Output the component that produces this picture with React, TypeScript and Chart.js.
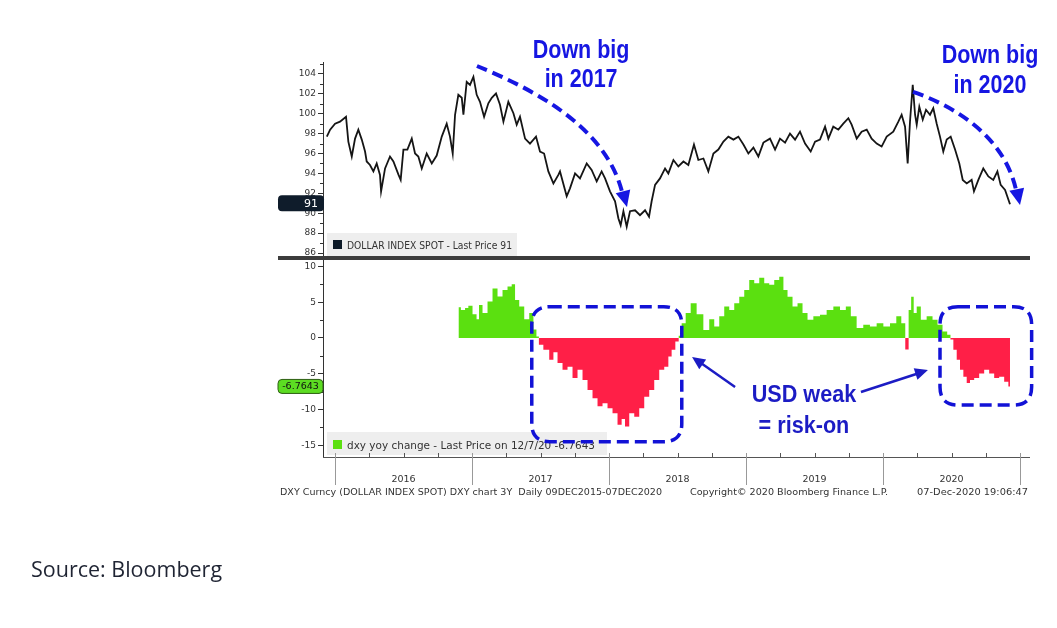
import React, { useEffect, useRef } from 'react';
import { Chart, registerables } from 'chart.js';

Chart.register(...registerables);

// ---------- DATA ----------
const dxyDates = [
  2015.94, 2015.964, 2016.0, 2016.036, 2016.08, 2016.097, 2016.122, 2016.146, 2016.17, 2016.195,
  2016.219, 2016.231, 2016.255, 2016.28, 2016.304, 2016.328, 2016.336, 2016.365, 2016.401, 2016.426,
  2016.462, 2016.479, 2016.499, 2016.528, 2016.56, 2016.584, 2016.608, 2016.633, 2016.669, 2016.706,
  2016.742, 2016.779, 2016.815, 2016.839, 2016.859, 2016.876, 2016.9, 2016.925, 2016.937, 2016.961,
  2016.985, 2017.01, 2017.034, 2017.058, 2017.088, 2017.119, 2017.144, 2017.175, 2017.204, 2017.229,
  2017.265, 2017.302, 2017.326, 2017.35, 2017.387, 2017.423, 2017.467, 2017.496, 2017.526, 2017.557,
  2017.594, 2017.63, 2017.642, 2017.691, 2017.715, 2017.752, 2017.788, 2017.837, 2017.873, 2017.91,
  2017.946, 2017.971, 2018.007, 2018.044, 2018.068, 2018.085, 2018.105, 2018.129, 2018.153, 2018.19,
  2018.226, 2018.263, 2018.292, 2018.311, 2018.336, 2018.372, 2018.409, 2018.433, 2018.47, 2018.506,
  2018.543, 2018.579, 2018.62, 2018.652, 2018.689, 2018.725, 2018.762, 2018.798, 2018.835, 2018.871,
  2018.908, 2018.944, 2018.981, 2019.017, 2019.054, 2019.09, 2019.127, 2019.175, 2019.212, 2019.248,
  2019.285, 2019.321, 2019.358, 2019.394, 2019.431, 2019.472, 2019.504, 2019.54, 2019.577, 2019.601,
  2019.637, 2019.674, 2019.71, 2019.747, 2019.771, 2019.808, 2019.844, 2019.881, 2019.917, 2019.954,
  2019.99, 2020.027, 2020.075, 2020.112, 2020.136, 2020.161, 2020.18, 2020.197, 2020.217, 2020.234,
  2020.246, 2020.265, 2020.29, 2020.314, 2020.343, 2020.367, 2020.392, 2020.416, 2020.44, 2020.465,
  2020.494, 2020.526, 2020.557, 2020.582, 2020.611, 2020.647, 2020.664, 2020.696, 2020.732, 2020.769,
  2020.805, 2020.835, 2020.859, 2020.891, 2020.927,
];
const dxyValues = [
  97.7, 98.4, 99.0, 99.2, 99.7, 97.2, 95.7, 97.5, 98.4, 97.4,
  96.2, 95.2, 94.85, 94.2, 95.0, 93.85, 92.2, 94.5, 95.7, 95.2,
  93.9, 93.35, 96.4, 96.4, 97.5, 96.0, 95.7, 94.5, 96.0, 95.0,
  95.8, 97.7, 99.0, 97.7, 96.0, 99.9, 101.9, 101.6, 99.9, 103.2,
  102.9, 103.7, 101.9, 101.2, 99.7, 101.05, 101.6, 102.05, 100.9, 99.2,
  101.2, 100.05, 98.9, 99.7, 97.5, 97.0, 97.7, 96.2, 96.0, 94.2,
  93.0, 93.85, 94.2, 91.7, 92.5, 94.0, 93.5, 95.0, 94.35, 93.2,
  94.2, 93.5, 92.2, 91.2, 89.5, 88.8, 90.2, 88.65, 90.2, 90.3,
  89.8, 90.3, 89.65, 91.2, 92.85, 93.5, 94.5, 94.0, 95.35, 94.7,
  95.2, 94.85, 96.9, 95.35, 95.5, 94.2, 96.0, 96.4, 97.2, 97.7,
  97.4, 97.7, 96.9, 96.0, 96.6, 95.7, 97.1, 97.5, 96.4, 97.5,
  97.1, 98.0, 97.4, 98.2, 97.0, 96.2, 97.2, 97.4, 98.7, 97.5,
  98.7, 98.4, 99.0, 99.55, 98.9, 97.5, 98.2, 98.4, 97.5, 97.0,
  96.7, 97.7, 98.2, 99.2, 99.9, 98.7, 95.0, 99.2, 102.9, 99.9,
  98.9, 100.7, 99.4, 100.4, 99.9, 100.55, 99.0, 97.7, 96.2, 97.4,
  97.7, 96.4, 95.0, 93.35, 93.0, 93.35, 92.2, 93.35, 94.5, 93.7,
  93.35, 94.2, 92.85, 92.35, 90.9,
];

const yoyDates = [
  2016.9, 2016.937, 2016.961, 2016.985, 2017.022, 2017.044, 2017.058, 2017.095, 2017.131, 2017.168,
  2017.204, 2017.241, 2017.277, 2017.302, 2017.326, 2017.363, 2017.399, 2017.436, 2017.46, 2017.48,
  2017.496, 2017.545, 2017.582, 2017.606, 2017.642, 2017.679, 2017.715, 2017.752, 2017.788, 2017.825,
  2017.861, 2017.898, 2017.934, 2017.971, 2018.007, 2018.044, 2018.08, 2018.104, 2018.129, 2018.166,
  2018.202, 2018.239, 2018.275, 2018.312, 2018.348, 2018.385, 2018.421, 2018.445, 2018.469, 2018.499,
  2018.518, 2018.542, 2018.577, 2018.615, 2018.664, 2018.713, 2018.75, 2018.786, 2018.823, 2018.859,
  2018.896, 2018.932, 2018.969, 2019.005, 2019.042, 2019.078, 2019.115, 2019.151, 2019.188, 2019.224,
  2019.261, 2019.285, 2019.321, 2019.358, 2019.394, 2019.431, 2019.467, 2019.516, 2019.564, 2019.613,
  2019.662, 2019.71, 2019.747, 2019.783, 2019.832, 2019.88, 2019.929, 2019.978, 2020.027, 2020.075,
  2020.119, 2020.148, 2020.177, 2020.197, 2020.214, 2020.234, 2020.258, 2020.294, 2020.343, 2020.38,
  2020.416, 2020.453, 2020.484, 2020.501, 2020.526, 2020.55, 2020.574, 2020.599, 2020.623, 2020.647,
  2020.684, 2020.72, 2020.757, 2020.793, 2020.83, 2020.866, 2020.903, 2020.927,
];
const yoyValues = [
  4.3, 3.9, 4.2, 4.5, 3.3, 2.6, 4.6, 3.5, 5.1, 6.9,
  5.8, 6.7, 7.2, 7.5, 5.3, 4.4, 2.6, 3.5, 1.2, 0.2,
  -0.95, -1.65, -3.05, -2.0, -3.5, -4.45, -4.0, -5.6, -4.45, -5.85,
  -7.25, -8.4, -9.55, -9.1, -9.8, -10.5, -12.1, -11.3, -12.35, -10.5,
  -11.0, -9.8, -8.2, -7.25, -5.85, -4.45, -4.0, -2.6, -1.65, -0.5,
  0.3, 2.05, 3.5, 4.85, 3.3, 1.1, 2.6, 1.6, 3.05, 4.4,
  3.9, 4.85, 5.75, 6.7, 8.1, 7.65, 8.4, 7.65, 7.45, 8.1,
  8.55, 6.7, 5.75, 4.4, 4.85, 3.5, 2.55, 3.05, 3.25, 3.9,
  4.4, 3.9, 4.4, 3.05, 1.4, 1.85, 1.6, 2.05, 1.6, 2.05,
  3.05, 2.05, -1.6, 3.9, 5.75, 3.5, 4.4, 2.55, 3.05, 2.55,
  1.85, 0.9, 0.45, -0.2, -1.65, -3.05, -4.45, -5.4, -6.3, -5.85,
  -5.6, -4.95, -4.45, -4.95, -5.6, -5.4, -6.1, -6.7643,
];

const topTicks = [86, 88, 90, 92, 94, 96, 98, 100, 102, 104];
const topMinorTicks = [87, 89, 91, 93, 95, 97, 99, 101, 103, 105];
const bottomTicks = [-15, -10, -5, 0, 5, 10];
const bottomMinorTicks = [-12.5, -7.5, -2.5, 2.5, 7.5];
const yearStarts = [2016, 2017, 2018, 2019, 2020, 2021];
const yearLabels = ['2016', '2017', '2018', '2019', '2020'];

const lastDxyLabel = '91';
const lastYoyLabel = '-6.7643';
const topLegend = 'DOLLAR INDEX SPOT - Last Price 91';
const bottomLegend = 'dxy yoy change - Last Price on 12/7/20 -6.7643';
const footerLeft = 'DXY Curncy (DOLLAR INDEX SPOT) DXY chart 3Y  Daily 09DEC2015-07DEC2020';
const footerMid = 'Copyright\u00A9 2020 Bloomberg Finance L.P.';
const footerRight = '07-Dec-2020 19:06:47';

// ---------- STYLE ----------
const GREEN = '#5be010';
const RED = '#ff1f47';
const BLUE = '#1616e2';
const NAVY = '#1c1cc4';
const SMALL = '"DejaVu Sans", Verdana, sans-serif';
const BIG = '"Liberation Sans", Arial, sans-serif';
const X_MIN = 2015.912;
const X_MAX = 2021.073;

function arrowHead(ctx: CanvasRenderingContext2D, tx: number, ty: number, fx: number, fy: number, len: number, half: number, color: string) {
  const a = Math.atan2(ty - fy, tx - fx);
  const bx = tx - len * Math.cos(a);
  const by = ty - len * Math.sin(a);
  ctx.save();
  ctx.fillStyle = color;
  ctx.beginPath();
  ctx.moveTo(tx, ty);
  ctx.lineTo(bx + half * Math.sin(a), by - half * Math.cos(a));
  ctx.lineTo(bx - half * Math.sin(a), by + half * Math.cos(a));
  ctx.closePath();
  ctx.fill();
  ctx.restore();
}

function scaledText(ctx: CanvasRenderingContext2D, text: string, cx: number, base: number, sx: number, font: string, color: string) {
  ctx.save();
  ctx.translate(cx, base);
  ctx.scale(sx, 1);
  ctx.font = font;
  ctx.fillStyle = color;
  ctx.textAlign = 'center';
  ctx.textBaseline = 'alphabetic';
  ctx.fillText(text, 0, 0);
  ctx.restore();
}

// draws text squeezed/stretched horizontally to span a given width
function fitText(ctx: CanvasRenderingContext2D, text: string, left: number, base: number, width: number, font: string, color: string) {
  ctx.save();
  ctx.font = font;
  const w = ctx.measureText(text).width || 1;
  ctx.translate(left, base);
  ctx.scale(width / w, 1);
  ctx.fillStyle = color;
  ctx.textAlign = 'left';
  ctx.textBaseline = 'alphabetic';
  ctx.fillText(text, 0, 0);
  ctx.restore();
}

function roundRect(ctx: CanvasRenderingContext2D, x: number, y: number, w: number, h: number, r: number) {
  ctx.beginPath();
  ctx.moveTo(x + r, y);
  ctx.lineTo(x + w - r, y);
  ctx.quadraticCurveTo(x + w, y, x + w, y + r);
  ctx.lineTo(x + w, y + h - r);
  ctx.quadraticCurveTo(x + w, y + h, x + w - r, y + h);
  ctx.lineTo(x + r, y + h);
  ctx.quadraticCurveTo(x, y + h, x, y + h - r);
  ctx.lineTo(x, y + r);
  ctx.quadraticCurveTo(x, y, x + r, y);
  ctx.closePath();
}

const overlay = {
  id: 'overlay',
  afterDraw(chart: any) {
    const ctx: CanvasRenderingContext2D = chart.ctx;
    const xs = chart.scales.x;
    const yT = chart.scales.yTop;
    const yB = chart.scales.yBot;
    const area = chart.chartArea;
    const px = (v: number) => xs.getPixelForValue(v);
    const pt = (v: number) => yT.getPixelForValue(v);
    const pb = (v: number) => yB.getPixelForValue(v);
    const axisX = area.left;

    ctx.save();
    // minor y ticks
    ctx.strokeStyle = '#333';
    ctx.lineWidth = 1;
    ctx.beginPath();
    topMinorTicks.forEach((v) => {
      const y = Math.round(pt(v)) + 0.5;
      if (y > yT.top && y < yT.bottom) { ctx.moveTo(axisX - 3, y); ctx.lineTo(axisX, y); }
    });
    bottomMinorTicks.forEach((v) => {
      const y = Math.round(pb(v)) + 0.5;
      ctx.moveTo(axisX - 3, y); ctx.lineTo(axisX, y);
    });
    ctx.stroke();

    // legend boxes
    const topBase = yT.bottom;
    ctx.fillStyle = '#eeeeee';
    ctx.fillRect(axisX + 4, topBase - 25, 190, 23);
    ctx.fillRect(axisX + 4, area.bottom - 25, 280, 23);
    ctx.fillStyle = '#0d1a28';
    ctx.fillRect(axisX + 10, topBase - 18, 9, 9);
    ctx.fillStyle = GREEN;
    ctx.fillRect(axisX + 10, area.bottom - 17, 9, 9);
    fitText(ctx, topLegend, axisX + 24, topBase - 9, 165, `10px ${SMALL}`, '#333');
    fitText(ctx, bottomLegend, axisX + 24, area.bottom - 8, 248, `10px ${SMALL}`, '#333');

    // separator bar between panels
    ctx.fillStyle = '#3c3c3c';
    ctx.fillRect(278, yT.bottom - 2, area.right - 278, 4);

    // bottom time axis
    ctx.strokeStyle = '#555';
    ctx.beginPath();
    ctx.moveTo(axisX, area.bottom + 0.5);
    ctx.lineTo(area.right, area.bottom + 0.5);
    ctx.stroke();
    ctx.beginPath();
    for (let yr = 2016; yr <= 2020; yr++) {
      [0.25, 0.5, 0.75].forEach((q) => {
        const x = Math.round(px(yr + q)) + 0.5;
        ctx.moveTo(x, area.bottom); ctx.lineTo(x, area.bottom - 4);
      });
    }
    ctx.stroke();
    ctx.strokeStyle = '#999';
    ctx.beginPath();
    yearStarts.forEach((yr) => {
      const x = Math.round(px(yr)) + 0.5;
      ctx.moveTo(x, area.bottom - 4); ctx.lineTo(x, area.bottom + 28);
    });
    ctx.stroke();
    ctx.font = `9.5px ${SMALL}`;
    ctx.fillStyle = '#333';
    ctx.textAlign = 'center';
    ctx.textBaseline = 'alphabetic';
    yearLabels.forEach((lab, i) => {
      ctx.fillText(lab, px(yearStarts[i] + 0.5), area.bottom + 25);
    });
    fitText(ctx, footerLeft, 280, area.bottom + 38, 382, `9.5px ${SMALL}`, '#333');
    fitText(ctx, footerMid, 690, area.bottom + 38, 198, `9.5px ${SMALL}`, '#333');
    fitText(ctx, footerRight, 917, area.bottom + 38, 111, `9.5px ${SMALL}`, '#333');

    // last-price tags
    const ty = pt(91);
    ctx.fillStyle = '#0f1c2b';
    roundRect(ctx, 278, ty - 8, 46, 16, 4);
    ctx.fill();
    ctx.fillStyle = '#fff';
    ctx.font = `11px ${SMALL}`;
    ctx.textAlign = 'right';
    ctx.textBaseline = 'middle';
    ctx.fillText(lastDxyLabel, 318, ty + 1);

    const gy = pb(-6.7643);
    ctx.fillStyle = '#5cdc22';
    roundRect(ctx, 278, gy - 7, 45, 14, 4);
    ctx.fill();
    ctx.strokeStyle = '#2d5e12';
    ctx.lineWidth = 1;
    ctx.stroke();
    ctx.fillStyle = '#111';
    ctx.font = `9.5px ${SMALL}`;
    ctx.textAlign = 'center';
    ctx.fillText(lastYoyLabel, 300.5, gy + 0.5);
    ctx.textBaseline = 'alphabetic';

    // dashed curved arrows
    ctx.strokeStyle = BLUE;
    ctx.lineWidth = 4;
    ctx.setLineDash([11, 6]);
    ctx.beginPath();
    ctx.moveTo(px(2017.036), pt(104.8));
    ctx.bezierCurveTo(px(2017.423), pt(102.59), px(2017.971), pt(98.87), px(2018.095), pt(92.14));
    ctx.stroke();
    ctx.beginPath();
    ctx.moveTo(px(2020.219), pt(102.19));
    ctx.bezierCurveTo(px(2020.562), pt(100.58), px(2020.891), pt(97.37), px(2020.971), pt(92.34));
    ctx.stroke();
    ctx.setLineDash([]);
    arrowHead(ctx, px(2018.131), pt(90.63), px(2018.095), pt(92.14) - 4, 16, 7.5, BLUE);
    arrowHead(ctx, px(2021.0), pt(90.83), px(2020.971), pt(92.34) - 4, 16, 7.5, BLUE);

    // dashed rounded boxes
    ctx.lineWidth = 3.5;
    ctx.setLineDash([12, 6]);
    ctx.strokeStyle = '#1212d6';
    const b1x = px(2017.436), b1y = pb(4.37);
    roundRect(ctx, b1x, b1y, px(2018.531) - b1x, pb(-14.48) - b1y, 18);
    ctx.stroke();
    const b2x = px(2020.416), b2y = pb(4.37);
    roundRect(ctx, b2x, b2y, px(2021.085) - b2x, pb(-9.36) - b2y, 18);
    ctx.stroke();
    ctx.setLineDash([]);

    // solid arrows
    ctx.strokeStyle = NAVY;
    ctx.lineWidth = 2.5;
    const l0x = px(2018.92), l0y = pb(-6.84), l1x = px(2018.606), l1y = pb(-2.65);
    ctx.beginPath(); ctx.moveTo(l0x, l0y); ctx.lineTo(l1x + 6, l1y + 4); ctx.stroke();
    arrowHead(ctx, l1x, l1y, l0x, l0y, 13, 6, NAVY);
    const r0x = px(2019.839), r0y = pb(-7.54), r1x = px(2020.328), r1y = pb(-4.47);
    ctx.beginPath(); ctx.moveTo(r0x, r0y); ctx.lineTo(r1x - 7, r1y + 2.5); ctx.stroke();
    arrowHead(ctx, r1x, r1y, r0x, r0y, 13, 6, NAVY);

    // annotation texts
    const bigFont = `bold 25px ${BIG}`;
    scaledText(ctx, 'Down big', px(2017.796), pt(105.58), 0.86, bigFont, BLUE);
    scaledText(ctx, 'in 2017', px(2017.796), pt(102.66), 0.86, bigFont, BLUE);
    scaledText(ctx, 'Down big', px(2020.781), pt(105.08), 0.86, bigFont, BLUE);
    scaledText(ctx, 'in 2020', px(2020.781), pt(102.06), 0.86, bigFont, BLUE);
    const midFont = `bold 23.5px ${BIG}`;
    scaledText(ctx, 'USD weak', px(2019.423), pb(-8.9), 0.92, midFont, NAVY);
    scaledText(ctx, '= risk-on', px(2019.423), pb(-13.27), 0.92, midFont, NAVY);
    ctx.restore();
  },
};

export default function App() {
  const ref = useRef<HTMLCanvasElement>(null);
  useEffect(() => {
    const canvas = ref.current;
    if (!canvas) return;
    const yCommon = {
      type: 'linear' as const,
      position: 'left' as const,
      stack: 'panels',
      afterFit: (s: any) => { s.width = 45; },
      ticks: { font: { family: 'DejaVu Sans', size: 9 }, color: '#333', padding: 2, autoSkip: false },
      grid: { drawOnChartArea: false, drawTicks: true, tickLength: 5, color: '#333', lineWidth: 1 },
      border: { display: true, color: '#333', width: 1 },
    };
    const chart = new Chart(canvas, {
      type: 'line',
      data: {
        datasets: [
          {
            label: 'DOLLAR INDEX SPOT',
            data: dxyDates.map((d, i) => ({ x: d, y: dxyValues[i] })),
            yAxisID: 'yTop',
            borderColor: '#151515',
            borderWidth: 1.8,
            pointRadius: 0,
            tension: 0,
            fill: false,
          },
          {
            label: 'dxy yoy change',
            data: yoyDates.map((d, i) => ({ x: d, y: yoyValues[i] })),
            yAxisID: 'yBot',
            borderWidth: 0,
            borderColor: 'rgba(0,0,0,0)',
            pointRadius: 0,
            stepped: 'middle',
            fill: { target: 'origin', above: GREEN, below: RED },
          },
        ],
      },
      options: {
        responsive: false,
        animation: false,
        events: [],
        layout: { padding: { left: 278, right: 27, top: 62, bottom: 171 } },
        plugins: { legend: { display: false }, tooltip: { enabled: false }, title: { display: false } },
        scales: {
          x: { type: 'linear', min: X_MIN, max: X_MAX, display: false },
          yBot: {
            ...yCommon,
            stackWeight: 199,
            min: -16.62,
            max: 11.17,
            afterBuildTicks: (s: any) => { s.ticks = bottomTicks.map((v) => ({ value: v })); },
          },
          yTop: {
            ...yCommon,
            stackWeight: 196,
            min: 85.5,
            max: 105.2,
            afterBuildTicks: (s: any) => { s.ticks = topTicks.map((v) => ({ value: v })); },
          },
        },
      } as any,
      plugins: [overlay],
    });
    return () => chart.destroy();
  }, []);

  return (
    <div style={{ position: 'absolute', left: 0, top: 0, width: 1057, height: 628, background: '#fff' }}>
      <canvas ref={ref} width={1057} height={628} style={{ position: 'absolute', left: 0, top: 0 }} />
      <div
        style={{
          position: 'absolute',
          left: 31,
          top: 558,
          fontFamily: '"Open Sans", sans-serif',
          fontSize: 21.5,
          lineHeight: '21.5px',
          color: '#1f2433',
          whiteSpace: 'nowrap',
        }}
      >
        Source: Bloomberg
      </div>
    </div>
  );
}
